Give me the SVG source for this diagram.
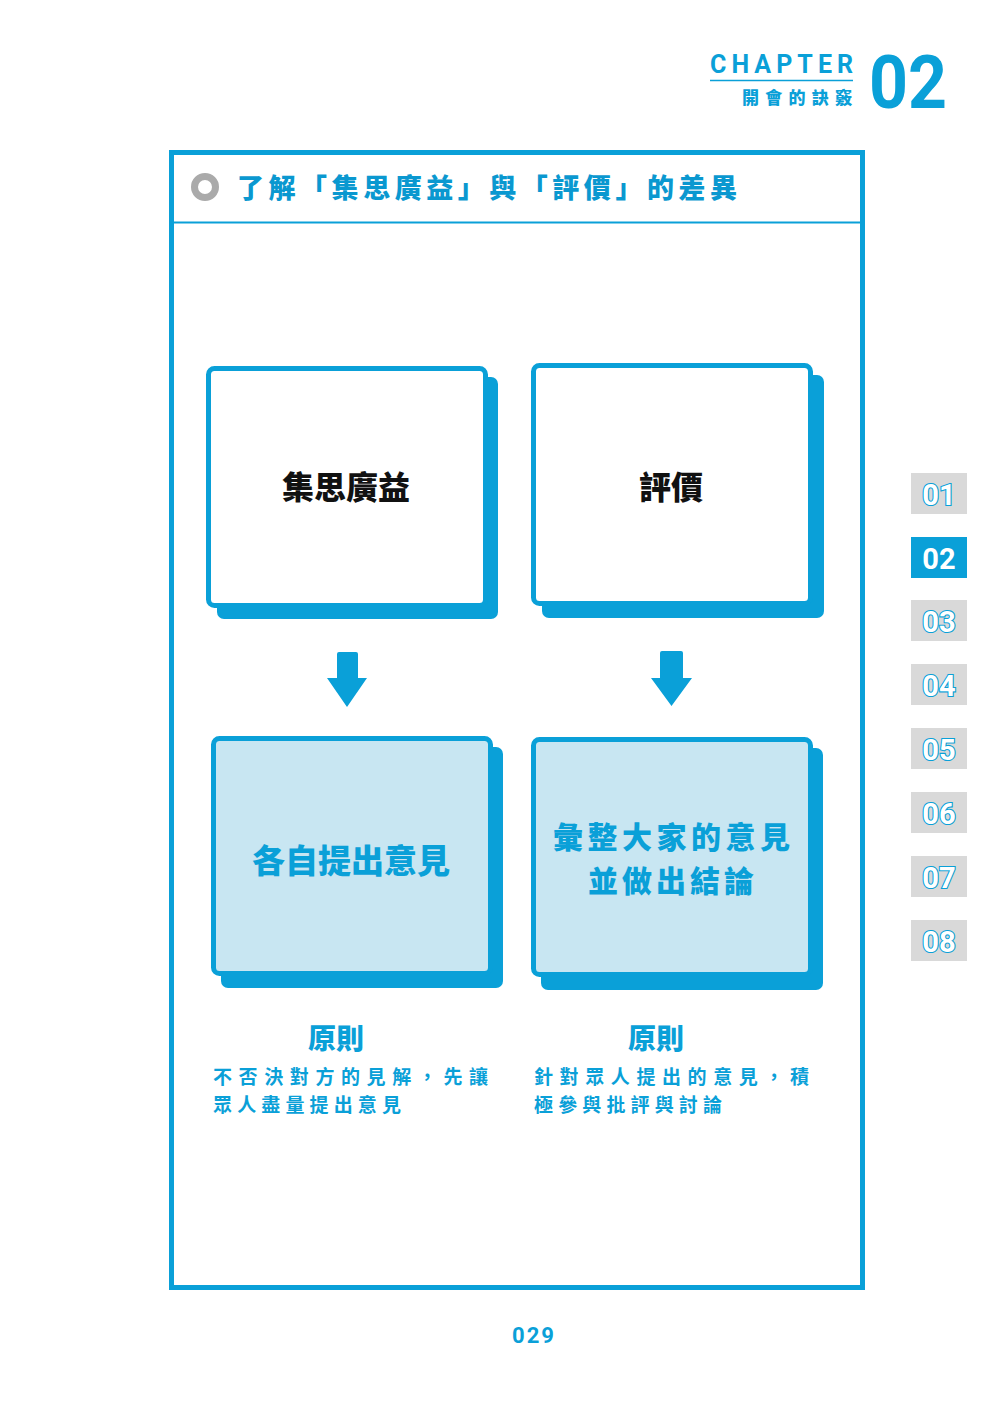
<svg xmlns="http://www.w3.org/2000/svg" width="999" height="1421" viewBox="0 0 999 1421">
<style>
.cjk{font-family:"Noto Sans CJK TC","Noto Sans CJK SC",sans-serif;font-weight:900}
.blue{fill:#0aa0d8}
.num{font-family:Roboto,"DejaVu Sans",sans-serif;font-weight:700}
.tab{fill:#d9d9d9}
.tabtxt{fill:#ffffff;stroke:#0aa0d8;stroke-width:2.2;paint-order:stroke}
.shadow{fill:#0aa0d8}
.boxw{fill:#ffffff;stroke:#0aa0d8;stroke-width:5}
.boxl{fill:#c8e6f2;stroke:#0aa0d8;stroke-width:5}
.arrow{fill:#0aa0d8}
.note{font-size:19px;font-weight:700}
</style>
<rect width="999" height="1421" fill="#ffffff"/>

<g id="header">
<text x="710" y="73" class="num blue" font-size="25" textLength="143" lengthAdjust="spacing">CHAPTER</text>
<line x1="710" y1="80.5" x2="853" y2="80.5" stroke="#0aa0d8" stroke-width="1.5"/>
<text x="742" y="104" class="cjk blue" font-size="17" textLength="110" lengthAdjust="spacing">開會的訣竅</text>
<text x="869" y="108" class="num blue" font-size="74" textLength="78" lengthAdjust="spacingAndGlyphs">02</text>
</g>

<g id="frame">
<rect x="171.5" y="152.5" width="691" height="1135" fill="none" stroke="#0aa0d8" stroke-width="5"/>
<line x1="174" y1="222.5" x2="860" y2="222.5" stroke="#0aa0d8" stroke-width="2"/>
<circle cx="205" cy="187" r="10.5" fill="none" stroke="#aaaaaa" stroke-width="7"/>
<text x="237" y="198" class="cjk" fill="#0a98d0" font-size="27" textLength="500" lengthAdjust="spacing">了解「集思廣益」與「評價」的差異</text>
</g>

<g id="tabs">
<rect x="911" y="473" width="56" height="41" class="tab"/>
<text x="939" y="505" class="num tabtxt" font-size="29" text-anchor="middle">01</text>
<rect x="911" y="537" width="56" height="41" fill="#0aa0d8"/>
<text x="939" y="569" class="num" fill="#ffffff" font-size="29" text-anchor="middle">02</text>
<rect x="911" y="600" width="56" height="41" class="tab"/>
<text x="939" y="632" class="num tabtxt" font-size="29" text-anchor="middle">03</text>
<rect x="911" y="664" width="56" height="41" class="tab"/>
<text x="939" y="696" class="num tabtxt" font-size="29" text-anchor="middle">04</text>
<rect x="911" y="728" width="56" height="41" class="tab"/>
<text x="939" y="760" class="num tabtxt" font-size="29" text-anchor="middle">05</text>
<rect x="911" y="792" width="56" height="41" class="tab"/>
<text x="939" y="824" class="num tabtxt" font-size="29" text-anchor="middle">06</text>
<rect x="911" y="856" width="56" height="41" class="tab"/>
<text x="939" y="888" class="num tabtxt" font-size="29" text-anchor="middle">07</text>
<rect x="911" y="920" width="56" height="41" class="tab"/>
<text x="939" y="952" class="num tabtxt" font-size="29" text-anchor="middle">08</text>
</g>

<g id="node-brainstorm">
<rect x="217" y="377" width="281" height="242" rx="7" class="shadow"/>
<rect x="208.5" y="368.5" width="277" height="237" rx="6" class="boxw"/>
<text x="346" y="499" class="cjk" fill="#111111" font-size="32" text-anchor="middle">集思廣益</text>
</g>

<g id="node-evaluate">
<rect x="542" y="375" width="282" height="243" rx="7" class="shadow"/>
<rect x="533.5" y="365.5" width="277" height="238" rx="6" class="boxw"/>
<text x="671" y="499" class="cjk" fill="#111111" font-size="32" text-anchor="middle">評價</text>
</g>

<g id="node-opinions">
<rect x="221" y="747" width="282" height="241" rx="7" class="shadow"/>
<rect x="213.5" y="738.5" width="277" height="235" rx="6" class="boxl"/>
<text x="351" y="873" class="cjk blue" font-size="33" text-anchor="middle">各自提出意見</text>
</g>

<g id="node-conclude">
<rect x="541" y="748" width="282" height="242" rx="7" class="shadow"/>
<rect x="533.5" y="739.5" width="277" height="235" rx="6" class="boxl"/>
<text x="553" y="848" class="cjk blue" font-size="30" textLength="237" lengthAdjust="spacing">彙整大家的意見</text>
<text x="588" y="892" class="cjk blue" font-size="30" textLength="166" lengthAdjust="spacing">並做出結論</text>
</g>

<g id="connectors">
<path class="arrow" d="M339 652 h17 a2 2 0 0 1 2 2 v24 h9 l-20 29 l-20 -29 h10 v-24 a2 2 0 0 1 2 -2 z"/>
<path class="arrow" d="M662 651 h19 a2 2 0 0 1 2 2 v25 h9 l-20.5 28 l-20.5 -28 h9 v-25 a2 2 0 0 1 2 -2 z"/>
</g>

<g id="notes">
<text x="336" y="1049" class="cjk blue" font-size="28" text-anchor="middle">原則</text>
<text x="213" y="1084" class="cjk blue note" textLength="275" lengthAdjust="spacing">不否決對方的見解，先讓</text>
<text x="213" y="1112" class="cjk blue note" textLength="188" lengthAdjust="spacing">眾人盡量提出意見</text>
<text x="656" y="1049" class="cjk blue" font-size="28" text-anchor="middle">原則</text>
<text x="534" y="1084" class="cjk blue note" textLength="275" lengthAdjust="spacing">針對眾人提出的意見，積</text>
<text x="534" y="1112" class="cjk blue note" textLength="188" lengthAdjust="spacing">極參與批評與討論</text>
</g>

<text x="534" y="1343" class="num blue" font-size="22" text-anchor="middle" letter-spacing="2">029</text>
</svg>
